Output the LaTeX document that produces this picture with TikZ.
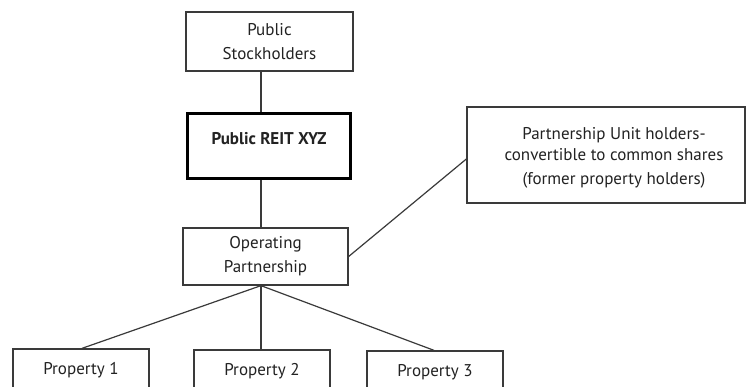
\documentclass[tikz,border=0pt]{standalone}
\usepackage{fontspec}
\setmainfont{PT Sans}
\definecolor{linegray}{HTML}{3A3A3A}
\definecolor{textgray}{HTML}{222222}
\begin{document}
\begin{tikzpicture}[x=1pt,y=-1pt,
  box/.style={draw=linegray,line width=1.3pt,inner sep=0pt,text=textgray,
    font=\fontsize{17}{24}\selectfont,align=center},
  link/.style={draw=linegray,line width=1.2pt}]
\useasboundingbox (0,0) rectangle (748,387);
\clip (0,0) rectangle (748,387);
\fill[white] (0,0) rectangle (748,387);
% nodes
\node[box,minimum width=167pt,minimum height=59pt] (ps) at (269.5,41.5) {Public\\Stockholders};
\node[box,line width=3pt,draw=black,minimum width=163pt,minimum height=65pt,
  font=\fontsize{17}{24}\selectfont\bfseries,text height=12pt,text depth=14pt] (reit) at (269,146) {Public REIT XYZ};
\node[box,minimum width=165pt,minimum height=57pt] (op) at (265.5,256.5) {Operating\\Partnership};
\node[box,minimum width=278pt,minimum height=96pt] (pu) at (606,155) {};
\node[text=textgray,font=\fontsize{17}{21}\selectfont,align=center,inner sep=0pt] (putext) at (614,158)
  {Partnership Unit holders-\\convertible to common shares\\[3pt](former property holders)};
\node[box,minimum width=136pt,minimum height=58pt,text height=12pt,text depth=18pt] (p1) at (81,378) {Property 1};
\node[box,minimum width=136pt,minimum height=58pt,text height=12pt,text depth=18pt] (p2) at (262,379) {Property 2};
\node[box,minimum width=136pt,minimum height=58pt,text height=12pt,text depth=18pt] (p3) at (435,380) {Property 3};
\coordinate (spine) at (261,0);
% connectors
\draw[link] (ps.south -| spine) -- (reit.north -| spine);
\draw[link] (reit.south -| spine) -- (op.north -| spine);
\draw[link] (op.east) -- ([yshift=-4pt]pu.west);
\draw[link] (op.south -| spine) -- (p1.north -| 82,0);
\draw[link] (op.south -| spine) -- (p2.north -| spine);
\draw[link] (op.south -| spine) -- (p3.north -| 434,0);
\end{tikzpicture}
\end{document}
